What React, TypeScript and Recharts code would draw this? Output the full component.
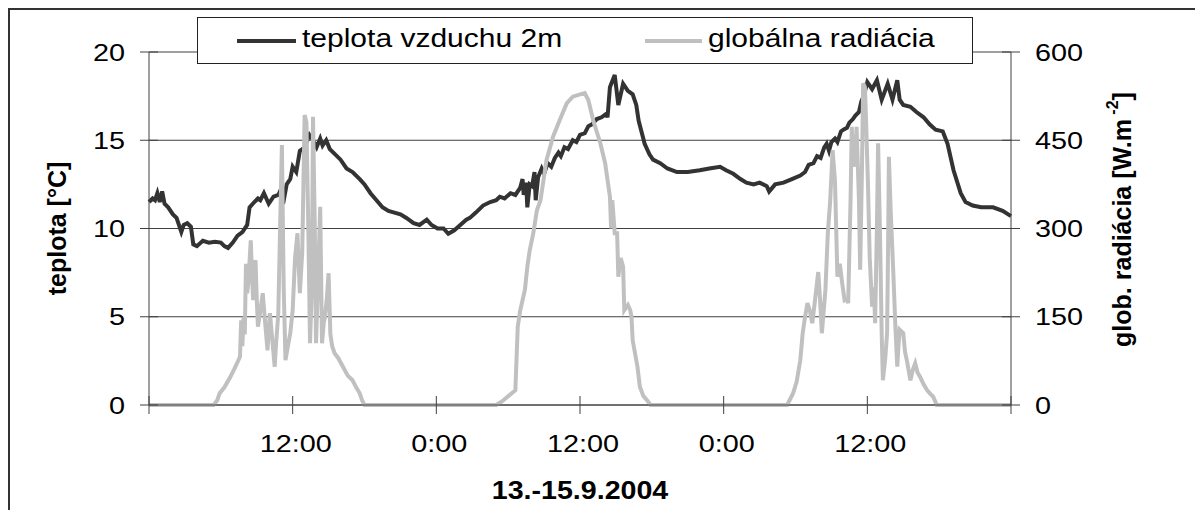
import React from 'react';
import { LineChart, Line, XAxis, YAxis, CartesianGrid, Legend, Label } from 'recharts';

// hours since 13.9.2004 0:00
const hourTicks = [0, 12, 24, 36, 48, 60, 72];
const tempTicks = [0, 5, 10, 15, 20];
const radTicks = [0, 150, 300, 450, 600];

const seriesNames = ['teplota vzduchu 2m', 'globálna radiácia'];
const seriesColors = ['#333333', '#c0c0c0'];

const tempHours = [
  0, 0.3, 0.5, 0.7, 0.9, 1.1, 1.3, 1.6, 2.0, 2.3,
  2.5, 2.7, 2.9, 3.2, 3.5, 3.7, 4.0, 4.5, 5.0, 5.5,
  6.0, 6.3, 6.6, 7.0, 7.4, 7.8, 8.2, 8.4, 8.8, 9.1,
  9.3, 9.6, 10.0, 10.4, 10.8, 11.0, 11.2, 11.5, 11.8, 12.0,
  12.3, 12.6, 13.0, 13.4, 13.7, 14.0, 14.3, 14.5, 14.8, 15.1,
  15.4, 16.0, 16.5, 17.0, 17.6, 18.0, 18.5, 19.0, 19.5, 20.0,
  20.5, 21.0, 21.5, 22.1, 22.6, 23.2, 23.6, 24.1, 24.6, 25.0,
  25.5, 26.0, 26.5, 26.8, 27.3, 27.9, 28.5, 29.0, 29.3, 29.7,
  30.2, 30.6, 31.0, 31.2, 31.3, 31.5, 31.6, 31.8, 32.0, 32.2,
  32.3, 32.5, 32.8, 33.0, 33.3, 33.6, 33.9, 34.2, 34.4, 34.7,
  35.0, 35.4, 35.7, 36.0, 36.4, 36.7, 37.0, 37.4, 37.8, 38.2,
  38.3, 38.5, 38.9, 39.2, 39.6, 40.0, 40.4, 40.7, 40.9, 41.4,
  41.8, 42.1, 42.7, 43.3, 44.1, 45.0, 46.0, 46.8, 47.7, 48.2,
  48.8, 49.4, 49.9, 50.5, 51.0, 51.6, 51.8, 52.3, 53.0, 53.7,
  54.4, 54.8, 55.1, 55.5, 55.8, 56.1, 56.4, 56.6, 56.8, 57.0,
  57.3, 57.5, 57.8, 58.0, 58.3, 58.5, 58.8, 59.0, 59.3, 59.5,
  59.7, 60.0, 60.4, 60.8, 61.2, 61.7, 62.1, 62.5, 62.7, 63.0,
  63.6, 64.1, 64.7, 65.2, 65.7, 66.3, 66.7, 67.2, 67.8, 68.2,
  68.8, 69.5, 70.5, 71.3, 72.0,
];
const tempValues = [
  11.5, 11.7, 11.6, 12.0, 11.5, 12.1, 11.4, 11.2, 10.8, 10.6,
  10.2, 9.8, 10.2, 10.3, 10.1, 9.1, 9.0, 9.3, 9.2, 9.25,
  9.2, 9.0, 8.9, 9.2, 9.6, 9.8, 10.2, 11.2, 11.5, 11.7,
  11.6, 12.0, 11.4, 11.8, 11.9, 12.2, 11.4, 12.5, 12.8, 13.5,
  13.2, 14.4, 14.6, 15.3, 15.0, 14.6, 15.1, 14.7, 15.0, 14.5,
  14.3, 13.9, 13.4, 13.2, 12.8, 12.5, 12.0, 11.6, 11.2, 11.0,
  10.9, 10.8, 10.6, 10.3, 10.2, 10.5, 10.2, 10.0, 10.0, 9.7,
  9.9, 10.2, 10.5, 10.6, 10.9, 11.3, 11.5, 11.6, 11.8, 11.7,
  12.0, 11.9, 12.3, 12.8, 11.9, 12.6, 11.2, 12.5, 12.4, 13.2,
  11.6, 12.9, 13.4, 13.1, 13.7, 13.5, 14.0, 14.3, 14.1, 14.6,
  14.5, 15.0, 14.9, 15.3, 15.4, 15.8, 15.9, 16.2, 16.3, 16.5,
  16.3, 18.0, 18.7, 17.0, 18.2, 17.8, 17.6, 17.0, 16.1, 14.8,
  14.2, 13.9, 13.7, 13.4, 13.2, 13.2, 13.3, 13.4, 13.5, 13.3,
  13.1, 12.8, 12.6, 12.5, 12.6, 12.4, 12.1, 12.5, 12.6, 12.8,
  13.0, 13.2, 13.6, 13.7, 14.1, 14.0, 14.6, 14.8, 14.4, 14.9,
  15.1, 14.9, 15.5, 15.6, 15.7, 16.0, 16.2, 16.4, 16.6, 17.2,
  17.5, 18.3, 17.9, 18.4, 17.3, 18.2, 17.3, 18.4, 17.3, 17.0,
  16.9, 16.6, 16.3, 15.9, 15.6, 15.5, 14.8, 13.3, 12.0, 11.5,
  11.3, 11.2, 11.2, 11.0, 10.7,
];

const radHours = [
  0, 5.4, 5.7, 5.9, 6.3, 6.8, 7.1, 7.35, 7.6, 7.7, 7.8, 7.9, 8.0, 8.1, 8.2, 8.3, 8.5, 8.6, 8.7, 8.8,
  8.9, 9.0, 9.1, 9.3, 9.5, 9.7, 9.9, 10.0, 10.1, 10.3, 10.5, 10.6, 10.8, 10.95, 11.1, 11.25, 11.4,
  11.6, 11.8, 12.0, 12.2, 12.4, 12.6, 12.8, 13.0, 13.15, 13.3, 13.45, 13.6, 13.7, 13.85, 13.95, 14.1,
  14.3, 14.45, 14.6, 14.7, 14.85, 15.0, 15.15, 15.3, 15.5, 15.8, 16.2, 16.6, 17.0, 17.3, 17.6, 17.8,
  18.0, 29.0, 29.4, 29.6, 30.3, 30.6, 30.8, 31.0, 31.2, 31.4, 31.6, 31.8, 32.1, 32.4, 32.7, 33.2,
  33.75, 34.3, 34.9, 35.4, 36.0, 36.4, 36.7, 37.1, 37.7, 38.1, 38.5, 38.6, 38.7, 38.9, 39.1, 39.2,
  39.4, 39.6, 39.7, 40.0, 40.2, 40.3, 40.4, 40.8, 41.0, 41.3, 41.6, 41.9, 53.3, 53.5, 53.8, 54.1,
  54.4, 54.6, 54.8, 55.0, 55.2, 55.4, 55.6, 55.9, 56.05, 56.2, 56.5, 56.7, 56.9, 57.1, 57.3, 57.5,
  57.7, 57.9, 58.1, 58.3, 58.4, 58.6, 58.7, 58.85, 59.0, 59.1, 59.3, 59.4, 59.55, 59.65, 59.8, 59.9,
  60.05, 60.2, 60.4, 60.55, 60.65, 60.8, 60.9, 61.05, 61.2, 61.3, 61.5, 61.65, 61.75, 61.8, 61.95,
  62.15, 62.35, 62.5, 62.6, 62.7, 63.0, 63.15, 63.3, 63.6, 63.8, 64.0, 64.2, 64.4, 64.7, 65.0, 65.3,
  65.5, 65.8, 72,
];
const radValues = [
  0, 0, 8, 20, 30, 48, 60, 71, 82, 144, 100, 150, 120, 240, 190, 210, 280, 220, 178, 240,
  246, 180, 133, 160, 190, 140, 93, 130, 156, 110, 65, 100, 156, 300, 442, 200, 76,
  100, 122, 161, 250, 292, 190, 260, 493, 480, 310, 105, 200, 490, 300, 105, 200,
  337, 105, 140, 150, 180, 224, 120, 100, 88, 80, 65, 50, 42, 30, 20, 8,
  0, 0, 5, 8, 20, 25, 133, 160, 178, 196, 235, 263, 292, 331, 348, 416,
  456, 484, 513, 524, 528, 530, 518, 484, 445, 411, 354, 300, 348, 292, 292, 218,
  250, 235, 161, 170, 161, 150, 110, 65, 31, 15, 8, 0, 0, 8, 20, 40,
  76, 122, 150, 173, 160, 139, 173, 226, 180, 122, 196, 292, 348, 433, 380, 218,
  240, 207, 178, 180, 173, 350, 473, 405, 420, 473, 348, 230, 400, 547, 540, 480,
  377, 250, 167, 200, 139, 300, 445, 300, 120, 42, 80, 122, 300, 422, 330,
  235, 130, 65, 100, 128, 122, 90, 76, 42, 60, 71, 55, 48, 35, 25, 18,
  14, 0, 0,
];

const tempData = tempHours.map((h, i) => ({ h, t: tempValues[i] }));
const radData = radHours.map((h, i) => ({ h, r: radValues[i] }));

const FONT = '"Liberation Sans", Arial, sans-serif';
const AXIS = '#404040';
const W = 1195;
const H = 502;

function XTick(props: any) {
  const { x, y, payload } = props;
  const v = payload.value;
  const showLabel = v > hourTicks[0] && v < hourTicks[hourTicks.length - 1];
  return (
    <g>
      <line x1={x} x2={x} y1={y - 9} y2={y + 9} stroke={AXIS} />
      {showLabel && (
        <text
          transform={`translate(${x + 3},${y + 47}) scale(1.2,1)`}
          textAnchor="middle"
          fontFamily={FONT}
          fontSize={24}
          fill="#000"
        >
          {`${v % 24}:00`}
        </text>
      )}
    </g>
  );
}

function LeftTick(props: any) {
  const { x, y, payload } = props;
  return (
    <g>
      <line x1={x - 9} x2={x + 9} y1={y} y2={y} stroke={AXIS} />
      <text
        transform={`translate(${x - 24},${y + 8.5}) scale(1.2,1)`}
        textAnchor="end"
        fontFamily={FONT}
        fontSize={24}
        fill="#000"
      >
        {payload.value}
      </text>
    </g>
  );
}

function RightTick(props: any) {
  const { x, y, payload } = props;
  return (
    <g>
      <line x1={x - 9} x2={x + 9} y1={y} y2={y} stroke={AXIS} />
      <text
        transform={`translate(${x + 24},${y + 8.5}) scale(1.2,1)`}
        textAnchor="start"
        fontFamily={FONT}
        fontSize={24}
        fill="#000"
      >
        {payload.value}
      </text>
    </g>
  );
}

function LeftTitle(props: any) {
  const vb = props.viewBox || { x: 0, y: 44, width: 141, height: 353 };
  return (
    <text
      transform={`translate(${vb.x + 49},${vb.y + vb.height / 2}) rotate(-90)`}
      textAnchor="middle"
      dominantBaseline="central"
      fontFamily={FONT}
      fontWeight="bold"
      fontSize={25}
      fill="#000"
    >
      teplota [°C]
    </text>
  );
}

function RightTitle(props: any) {
  const vb = props.viewBox || { x: 1003, y: 44, width: 192, height: 353 };
  return (
    <text
      transform={`translate(${vb.x + 111},${vb.y + vb.height / 2 - 9}) rotate(-90)`}
      textAnchor="middle"
      dominantBaseline="central"
      fontFamily={FONT}
      fontWeight="bold"
      fontSize={25}
      fill="#000"
    >
      glob. radiácia [W.m
      <tspan fontSize={16} dy={-10}> -2</tspan>
      <tspan dy={10}>]</tspan>
    </text>
  );
}

function BottomTitle(props: any) {
  const vb = props.viewBox || { x: 141, y: 397, width: 862, height: 105 };
  return (
    <text
      transform={`translate(${vb.x + vb.width / 2},${vb.y + 94}) scale(1.1,1)`}
      textAnchor="middle"
      fontFamily={FONT}
      fontWeight="bold"
      fontSize={26}
      fill="#000"
    >
      13.-15.9.2004
    </text>
  );
}

function LegendBox() {
  return (
    <svg width={774} height={45} style={{ display: 'block' }}>
      <line x1={39} x2={98} y1={23} y2={23} stroke={seriesColors[0]} strokeWidth={4} />
      <text transform="translate(104,29) scale(1.2,1)" fontFamily={FONT} fontSize={25} fill="#000">
        {seriesNames[0]}
      </text>
      <line x1={447} x2={504} y1={23} y2={23} stroke={seriesColors[1]} strokeWidth={4} />
      <text transform="translate(510,29) scale(1.2,1)" fontFamily={FONT} fontSize={25} fill="#000">
        {seriesNames[1]}
      </text>
    </svg>
  );
}

export default function App() {
  return (
    <div style={{ position: 'relative', width: W, height: H, background: '#fff' }}>
      <div
        style={{
          position: 'absolute',
          left: 0,
          top: 0,
          width: W,
          height: H,
          boxSizing: 'border-box',
          borderTop: '2px solid #333',
          borderLeft: '2px solid #333',
        }}
      />
      <LineChart width={W} height={H} margin={{ top: 44, right: 0, bottom: 0, left: 0 }}>
        <CartesianGrid yAxisId="t" vertical={false} stroke={AXIS} strokeWidth={1} />
        <XAxis
          dataKey="h"
          type="number"
          domain={[0, 72]}
          ticks={hourTicks}
          interval={0}
          height={105}
          tickSize={0}
          tickMargin={0}
          tickLine={false}
          axisLine={{ stroke: AXIS }}
          tick={<XTick />}
        >
          <Label content={<BottomTitle />} />
        </XAxis>
        <YAxis
          yAxisId="t"
          orientation="left"
          domain={[0, 20]}
          ticks={tempTicks}
          interval={0}
          width={141}
          tickSize={0}
          tickMargin={0}
          tickLine={false}
          axisLine={{ stroke: AXIS }}
          tick={<LeftTick />}
        >
          <Label content={<LeftTitle />} />
        </YAxis>
        <YAxis
          yAxisId="r"
          orientation="right"
          domain={[0, 600]}
          ticks={radTicks}
          interval={0}
          width={192}
          tickSize={0}
          tickMargin={0}
          tickLine={false}
          axisLine={{ stroke: AXIS }}
          tick={<RightTick />}
        >
          <Label content={<RightTitle />} />
        </YAxis>
        <Legend
          layout="horizontal"
          verticalAlign="middle"
          align="center"
          wrapperStyle={{
            position: 'absolute',
            left: 189,
            top: 9,
            width: 776,
            height: 47,
            boxSizing: 'border-box',
            border: '1px solid #222',
            background: '#fff',
          }}
          content={<LegendBox />}
        />
        <Line
          yAxisId="t"
          data={tempData}
          dataKey="t"
          name={seriesNames[0]}
          type="linear"
          stroke={seriesColors[0]}
          strokeWidth={4}
          dot={false}
          isAnimationActive={false}
        />
        <Line
          yAxisId="r"
          data={radData}
          dataKey="r"
          name={seriesNames[1]}
          type="linear"
          stroke={seriesColors[1]}
          strokeWidth={4}
          dot={false}
          isAnimationActive={false}
        />
      </LineChart>
    </div>
  );
}
